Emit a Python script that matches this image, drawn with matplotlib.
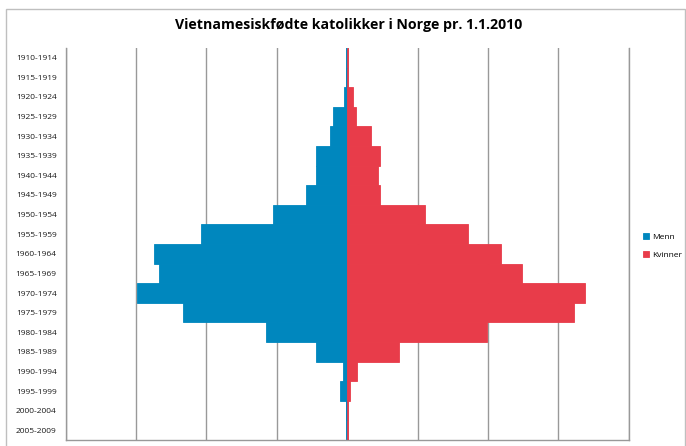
import matplotlib.pyplot as plt
from matplotlib.patches import Rectangle

# age groups, top to bottom
kohort = ['1910-1914', '1915-1919', '1920-1924', '1925-1929', '1930-1934',
          '1935-1939', '1940-1944', '1945-1949', '1950-1954', '1955-1959',
          '1960-1964', '1965-1969', '1970-1974', '1975-1979', '1980-1984',
          '1985-1989', '1990-1994', '1995-1999', '2000-2004', '2005-2009']
menn = [0, 1, 2, 10, 12, 22, 22, 29, 53, 104,
        137, 134, 149, 117, 58, 22, 3, 5, 1, 0]
kvinner = [0, 0, 4, 6, 17, 23, 22, 23, 55, 86,
           109, 124, 169, 161, 99, 37, 7, 2, 0, 0]

blaa = '#0087be'
rod = '#e83c4a'
fnt = 'Open Sans'

fig = plt.figure(figsize=(6.86, 4.46), dpi=100)
ax = fig.add_axes([65.7/686, 6/446, 563/686, 392/446])

y = range(len(kohort))
ax.barh(y, [-m for m in menn], height=1.0, color=blaa, edgecolor=blaa,
        linewidth=0.6, label='Menn', zorder=3)
ax.barh(y, kvinner, height=1.0, color=rod, edgecolor=rod,
        linewidth=0.6, label='Kvinner', zorder=3)
# thin zero line, as the empty bars leave it in the original
ax.axvline(-0.6, color=blaa, linewidth=0.7, zorder=2.5)
ax.axvline(0.6, color=rod, linewidth=0.7, zorder=2.6)

ax.set_xlim(-200, 200)
ax.set_ylim(len(kohort) - 0.5, -0.5)
ax.set_xticks(range(-200, 201, 50))
ax.set_xticklabels([])
ax.tick_params(axis='x', length=0)
ax.grid(axis='x', color='#999999', linewidth=1.0, zorder=0)
ax.set_yticks(list(y))
ax.set_yticklabels(kohort, fontname=fnt, fontsize=6, color='#1a1a1a')
ax.tick_params(axis='y', length=0, pad=6.5)
ax.spines['top'].set_visible(False)
for s in ['left', 'bottom', 'right']:
    ax.spines[s].set_color('#999999')
    ax.spines[s].set_linewidth(1.0)

fig.text(349/686, 1 - 25/446, 'Vietnamesiskfødte katolikker i Norge pr. 1.1.2010',
         ha='center', va='center', fontname=fnt, fontweight='bold', fontsize=10.2)

fig.legend(loc='upper left', bbox_to_anchor=(640/686, 1 - 230/446),
           frameon=False, prop={'family': fnt, 'size': 6},
           handlelength=0.7, handleheight=0.7, handletextpad=0.3,
           labelspacing=1.15, borderaxespad=0)

# chart area frame
fig.patches.append(Rectangle((5.7/686, -0.01), (685 - 5.7)/686, 1 - 9.3/446 + 0.01,
                             transform=fig.transFigure, fill=False,
                             edgecolor='#bfbfbf', linewidth=1.0))

fig.savefig('out.png', dpi=100)
